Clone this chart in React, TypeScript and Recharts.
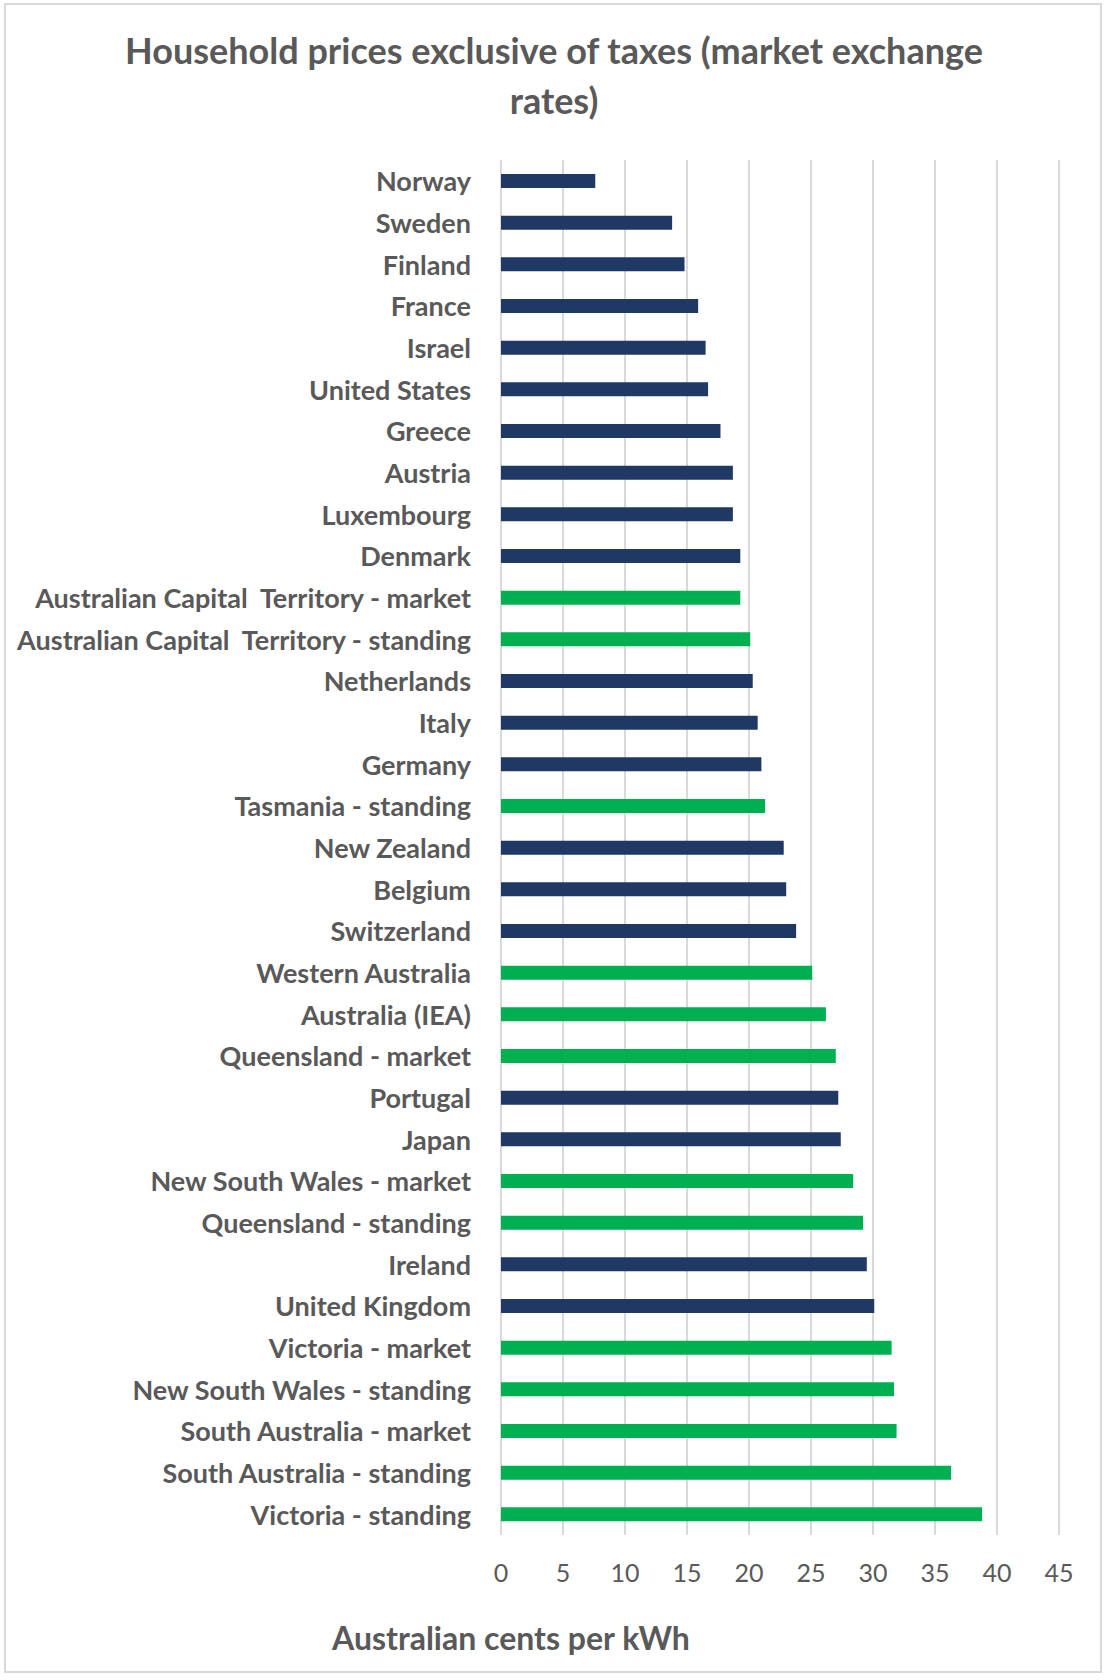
import { BarChart, Bar, Cell, CartesianGrid, XAxis, YAxis } from "recharts";

const categories = [
    "Norway",
    "Sweden",
    "Finland",
    "France",
    "Israel",
    "United States",
    "Greece",
    "Austria",
    "Luxembourg",
    "Denmark",
    "Australian Capital  Territory - market",
    "Australian Capital  Territory - standing",
    "Netherlands",
    "Italy",
    "Germany",
    "Tasmania - standing",
    "New Zealand",
    "Belgium",
    "Switzerland",
    "Western Australia",
    "Australia (IEA)",
    "Queensland - market",
    "Portugal",
    "Japan",
    "New South Wales - market",
    "Queensland - standing",
    "Ireland",
    "United Kingdom",
    "Victoria - market",
    "New South Wales - standing",
    "South Australia - market",
    "South Australia - standing",
    "Victoria - standing",
];

// cents per kWh
const prices = [
    7.6, 13.8, 14.8, 15.9, 16.5, 16.7, 17.7, 18.7, 18.7, 19.3, 19.3, 20.1, 20.3,
    20.7, 21.0, 21.3, 22.8, 23.0, 23.8, 25.1, 26.2, 27.0, 27.2, 27.4, 28.4, 29.2,
    29.5, 30.1, 31.5, 31.7, 31.9, 36.3, 38.8,
];

// "au" = Australian states / territories, "intl" = other countries
const groups = [
    "intl", "intl", "intl", "intl", "intl", "intl", "intl", "intl", "intl", "intl",
    "au", "au", "intl", "intl", "intl", "au", "intl", "intl", "intl", "au", "au",
    "au", "intl", "intl", "au", "au", "intl", "intl", "au", "au", "au", "au", "au",
];

const xTicks = [0, 5, 10, 15, 20, 25, 30, 35, 40, 45];

const NAVY = "#203864";
const GREEN = "#00B050";
const TEXT = "#595959";
const FONT = "Lato, 'Open Sans', sans-serif";

const CategoryTick = ({ x, y, payload }: any) => (
    <text
        x={x}
        y={y}
        textAnchor="end"
        dominantBaseline="central"
        fill={TEXT}
        fontFamily={FONT}
        fontWeight={700}
        fontSize={27}
        style={{ whiteSpace: "pre" }}
    >
        {payload.value}
    </text>
);

const ValueTick = ({ x, y, payload }: any) => (
    <text
        x={x}
        y={y}
        textAnchor="middle"
        dominantBaseline="central"
        fill={TEXT}
        fontFamily={FONT}
        fontSize={25}
    >
        {payload.value}
    </text>
);

const App = () => {
    const data = categories.map((name, i) => ({
        name,
        price: prices[i],
        group: groups[i],
    }));

    return (
        <div
            style={{
                position: "absolute",
                left: 0,
                top: 0,
                width: 1106,
                height: 1680,
                background: "#fff",
                fontFamily: FONT,
            }}
        >
            <div
                style={{
                    position: "absolute",
                    left: 4,
                    top: 3,
                    width: 1098,
                    height: 1670,
                    border: "2px solid #d9d9d9",
                    boxSizing: "border-box",
                }}
            />
            <div
                style={{
                    position: "absolute",
                    left: 0,
                    top: 25,
                    width: 1108,
                    textAlign: "center",
                    color: TEXT,
                    fontWeight: 700,
                    fontSize: 36,
                    lineHeight: "50px",
                }}
            >
                Household prices exclusive of taxes (market exchange
                <br />
                rates)
            </div>
            <BarChart
                width={1106}
                height={1680}
                data={data}
                layout="vertical"
                margin={{ top: 160, right: 47, bottom: 0, left: 0 }}
                style={{ position: "absolute", left: 0, top: 0 }}
            >
                <CartesianGrid
                    horizontal={false}
                    stroke="#d9d9d9"
                    strokeWidth={2}
                />
                <XAxis
                    type="number"
                    domain={[0, 45]}
                    ticks={xTicks}
                    axisLine={false}
                    tickLine={false}
                    tickSize={0}
                    tickMargin={37}
                    height={145}
                    tick={<ValueTick />}
                    interval={0}
                />
                <YAxis
                    type="category"
                    dataKey="name"
                    width={501}
                    axisLine={false}
                    tickLine={false}
                    tickSize={0}
                    tickMargin={30}
                    interval={0}
                    tick={<CategoryTick />}
                />
                <Bar dataKey="price" barSize={14} isAnimationActive={false}>
                    {data.map((d, i) => (
                        <Cell key={i} fill={d.group === "au" ? GREEN : NAVY} />
                    ))}
                </Bar>
            </BarChart>
            <div
                style={{
                    position: "absolute",
                    left: 0,
                    top: 1616,
                    width: 1022,
                    textAlign: "center",
                    color: TEXT,
                    fontWeight: 700,
                    fontSize: 32,
                    lineHeight: "44px",
                }}
            >
                Australian cents per kWh
            </div>
        </div>
    );
};

export default App;
